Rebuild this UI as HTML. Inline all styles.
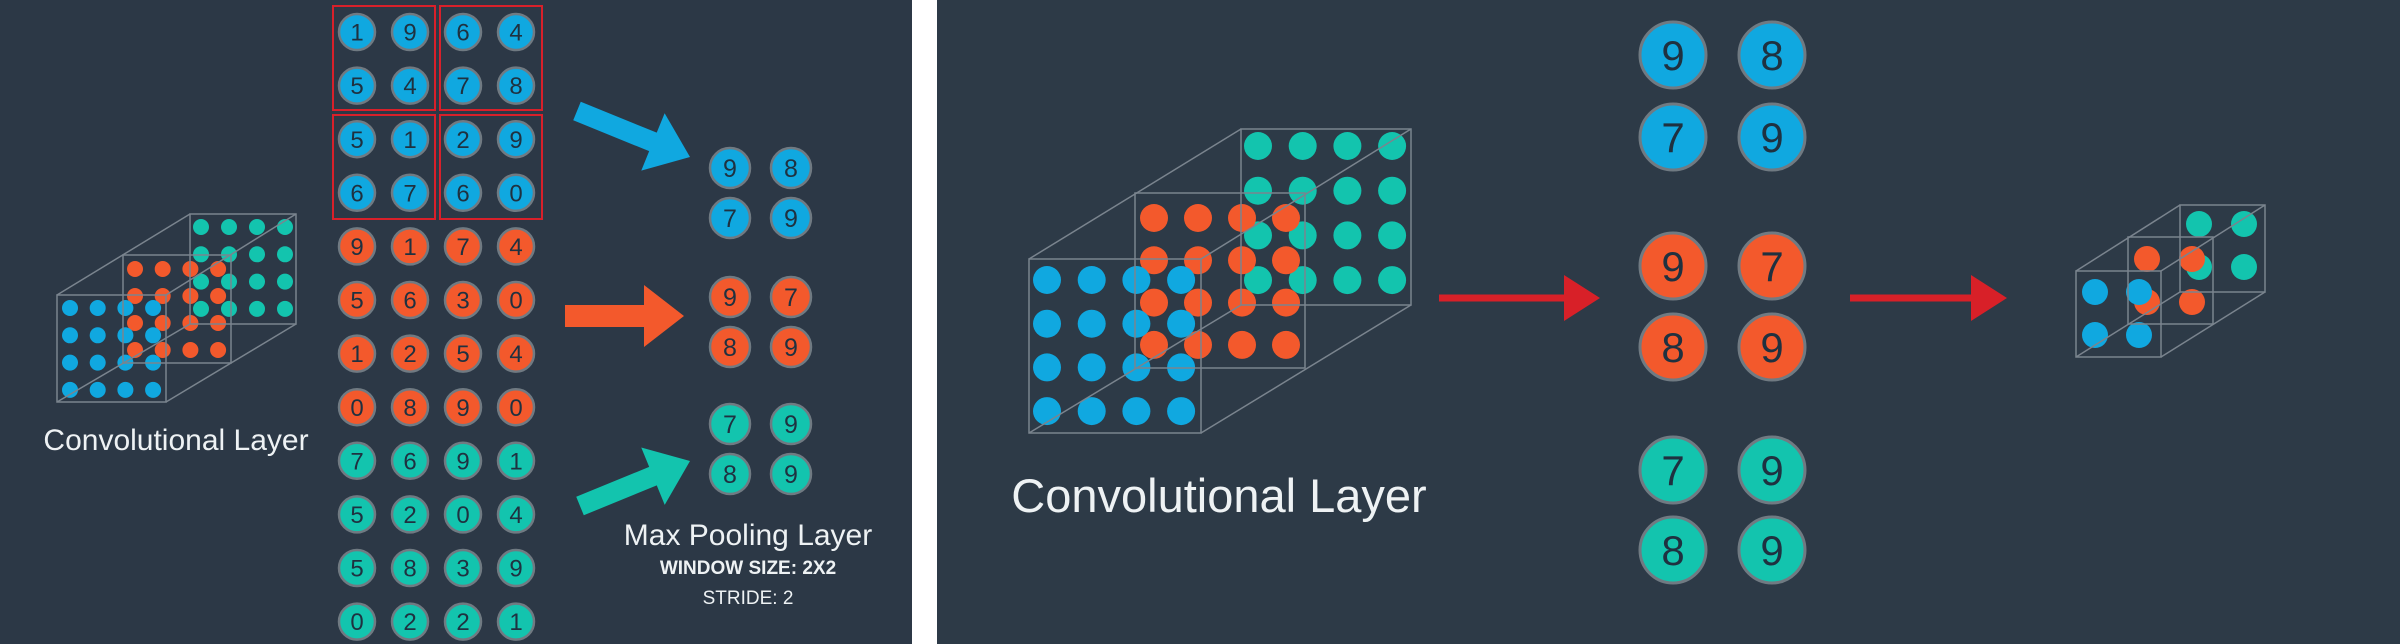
<!DOCTYPE html>
<html><head><meta charset="utf-8"><style>
html,body{margin:0;padding:0;background:#fff}
svg{display:block}
text{font-family:"Liberation Sans",sans-serif}
</style></head><body>
<svg id="s" width="2400" height="644" viewBox="0 0 2400 644">
<rect x="0" y="0" width="912" height="644" fill="#2c3846"/>
<rect x="937" y="0" width="1463" height="644" fill="#2d3a47"/>
<g id="g"></g>
</svg>
<script>
// data
const leftGrid = [[1,9,6,4],[5,4,7,8],[5,1,2,9],[6,7,6,0],[9,1,7,4],[5,6,3,0],[1,2,5,4],[0,8,9,0],[7,6,9,1],[5,2,0,4],[5,8,3,9],[0,2,2,1]];
const pooled = [[9,8],[7,9],[9,7],[8,9],[7,9],[8,9]];
const channelColors = ['#10a8e0','#f3592c','#13c4ae'];

const NS='http://www.w3.org/2000/svg';
const g=document.getElementById('g');
function mk(tag,attrs,parent){const e=document.createElementNS(NS,tag);for(const k in attrs)e.setAttribute(k,attrs[k]);(parent||g).appendChild(e);return e;}

function numCircle(cx,cy,r,fill,val,fs,name){
  const grp=mk('g',{});
  
  
  mk('circle',{cx:cx,cy:cy,r:r,fill:fill,stroke:'#707a82','stroke-width':r>25?3:2.5},grp);
  const t=mk('text',{x:cx,y:cy+fs*0.36,'text-anchor':'middle','font-size':fs,fill:'#1f3140'},grp);
  t.textContent=val;
}

// left grid
leftGrid.forEach((row,i)=>{
  row.forEach((v,j)=>{
    numCircle(357+53*j,32+53.6*i,18,channelColors[Math.floor(i/4)],v,24,'input-cell-'+i+'-'+j);
  });
});
// red windows
[[333,6],[440,6],[333,115],[440,115]].forEach((p,k)=>{
  const r=mk('rect',{x:p[0],y:p[1],width:102,height:104,fill:'none',stroke:'#d8202a','stroke-width':2});
  
  
});
// left pooled
const lpRows=[168,218,297,347,424,474];
pooled.forEach((row,i)=>{
  row.forEach((v,j)=>{
    numCircle(730+61*j,lpRows[i],20,channelColors[Math.floor(i/2)],v,25,'left-output-cell-'+i+'-'+j);
  });
});
// right pooled
const rpRows=[55,137,266,347,470,550];
pooled.forEach((row,i)=>{
  row.forEach((v,j)=>{
    numCircle(1673+99*j,rpRows[i],33,channelColors[Math.floor(i/2)],v,42,'right-output-cell-'+i+'-'+j);
  });
});

// cube builder
function cube(faces,dots,r,n,name){
  const grp=mk('g',{});
  
  
  const st={stroke:'#7a848e','stroke-width':1.5,fill:'none'};
  const F=faces[0],B=faces[2];
  // dots back to front
  for(let c=2;c>=0;c--){
    const d=dots[c];
    for(let a=0;a<n;a++)for(let b=0;b<n;b++)
      mk('circle',{cx:d.x0+d.dx*b,cy:d.y0+d.dy*a,r:r,fill:channelColors[c]},grp);
  }
  faces.forEach(f=>mk('rect',Object.assign({x:f.x,y:f.y,width:f.w,height:f.h},st),grp));
  [[F.x,F.y,B.x,B.y],[F.x+F.w,F.y,B.x+B.w,B.y],[F.x+F.w,F.y+F.h,B.x+B.w,B.y+B.h],[F.x,F.y+F.h,B.x,B.y+B.h]]
   .forEach(l=>mk('line',Object.assign({x1:l[0],y1:l[1],x2:l[2],y2:l[3]},st),grp));
}
cube([{x:57,y:295,w:109,h:107},{x:123,y:255,w:108,h:108},{x:190,y:214,w:106,h:110}],
  [{x0:70,y0:308,dx:27.7,dy:27.3},{x0:135,y0:269,dx:27.7,dy:27},{x0:201,y0:227,dx:28,dy:27.3}],8,4,'left-conv-cube');
cube([{x:1029,y:259,w:172,h:174},{x:1135,y:193,w:170,h:175},{x:1241,y:129,w:170,h:176}],
  [{x0:1047,y0:280,dx:44.7,dy:43.7},{x0:1154,y0:218,dx:44,dy:42.3},{x0:1258,y0:146,dx:44.7,dy:44.7}],14,4,'right-conv-cube');
cube([{x:2076,y:271,w:85,h:86},{x:2128,y:237,w:85,h:87},{x:2180,y:205,w:85,h:87}],
  [{x0:2095,y0:292,dx:44,dy:43},{x0:2147,y0:259,dx:45,dy:43},{x0:2199,y0:224,dx:45,dy:43}],13,2,'pooled-cube');

// arrows
function arrow(x1,y1,x2,y2,w,hw,hl,col,name){
  const a=Math.atan2(y2-y1,x2-x1),L=Math.hypot(x2-x1,y2-y1);
  const grp=mk('g',{transform:`translate(${x1},${y1}) rotate(${a*180/Math.PI})`});
  
  
  mk('polygon',{points:`0,${-w/2} ${L-hl},${-w/2} ${L-hl},${-hw/2} ${L},0 ${L-hl},${hw/2} ${L-hl},${w/2} 0,${w/2}`,fill:col},grp);
}
arrow(577,111,690,157,20,62,40,'#10a8e0','blue-arrow');
arrow(565,316,684,316,22,62,40,'#f3592c','orange-arrow');
arrow(580,506,690,461,20,62,40,'#13c4ae','teal-arrow');
arrow(1439,298,1600,298,7,46,36,'#d82028','red-arrow-1');
arrow(1850,298,2007,298,7,46,36,'#d82028','red-arrow-2');

// labels
function label(x,y,txt,fs,anchor,weight,name){
  const t=mk('text',{x:x,y:y,'font-size':fs,fill:'#eef2f4','text-anchor':anchor,'font-weight':weight});
  t.textContent=txt;
  
  
}
label(176,450,'Convolutional Layer',30,'middle','normal','left-conv-label');
label(748,545,'Max Pooling Layer',30,'middle','normal','max-pooling-label');
label(748,574,'WINDOW SIZE: 2X2',19,'middle','bold','window-size-label');
label(748,604,'STRIDE: 2',19,'middle','normal','stride-label');
label(1219,512,'Convolutional Layer',47,'middle','normal','right-conv-label');
</script>
</body></html>
